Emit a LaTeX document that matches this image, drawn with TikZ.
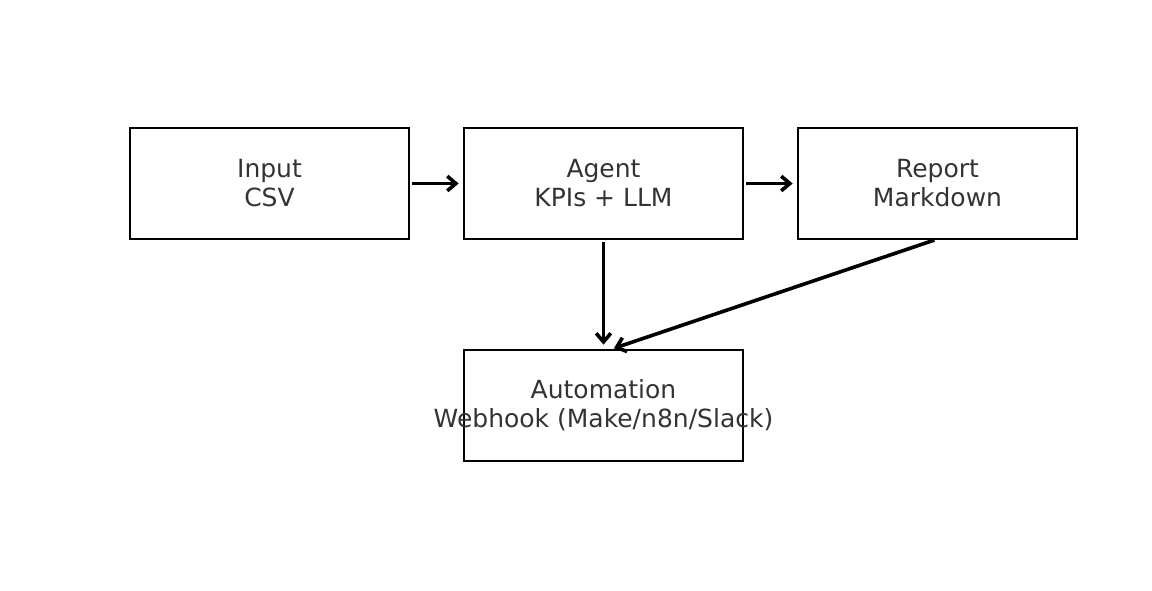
\documentclass[tikz,border=0pt]{standalone}
\usepackage{fontspec}
\setmainfont{DejaVu Sans}
\usetikzlibrary{positioning}
\usetikzlibrary{arrows.meta}
\definecolor{txtgray}{HTML}{333333}
\begin{document}
\begin{tikzpicture}[
        x=0.75pt, y=-0.75pt,
        stage/.style={draw, line width=1.6pt, minimum width=209.25pt, minimum height=83.25pt,
            inner ysep=0pt, inner xsep=-30pt, outer sep=0pt, align=center, text=txtgray,
            font=\fontsize{18.75}{21.8}\selectfont},
        flow/.style={-{Straight Barb[length=6.5pt, width=11pt, line width=2.7pt]}, line width=2.7pt,
            shorten <=2.5pt, shorten >=4pt}
    ]
    \useasboundingbox (0,0) rectangle (1152,590);
    \node[stage] (input) at (269.5,183.5) {Input\\CSV};
    \node[stage, right=41.25pt of input] (agent) {Agent\\KPIs + LLM};
    \node[stage, right=41.25pt of agent] (report) {Report\\Markdown};
    \node[stage, below=83.25pt of agent] (auto) {Automation\\Webhook (Make/n8n/Slack)};
    \draw[flow] (input) -- (agent);
    \draw[flow] (agent) -- (report);
    \draw[flow] (agent) -- (auto);
    \draw[flow] (report.south) -- ([xshift=4pt]auto.north);
\end{tikzpicture}
\end{document}
